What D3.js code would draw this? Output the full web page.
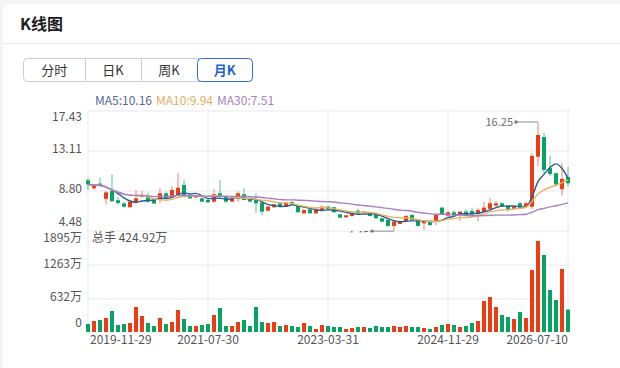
<!DOCTYPE html>
<meta charset="utf-8">
<style>
body {
    margin: 0;
    background: #f3f4f6;
    font-family: "Noto Sans CJK SC", sans-serif;
}
svg text {
    font-family: "Noto Sans CJK SC", sans-serif;
}
</style>
<body>
<script src="https://cdn.jsdelivr.net/npm/d3@7"></script>
<script>
var width = 620,
    height = 368;

// monthly candles, 2019-11 .. 2026-07
var opens  = [9.95, 9.10, 9.60, 7.95, 8.80, 7.80, 7.45, 7.05, 7.60, 8.20,
              8.25, 7.90, 7.85, 8.55, 8.25, 8.35, 9.45, 8.35, 8.10, 8.00,
              7.83, 7.65, 8.55, 8.19, 7.65, 7.94, 8.44, 8.01, 7.83, 7.54,
              6.68, 7.04, 7.47, 7.11, 7.60, 7.18, 6.39, 6.82, 6.39, 6.75,
              7.11, 7.04, 6.28, 5.96, 6.10, 6.68, 6.39, 6.39, 6.21, 5.85,
              5.67, 5.03, 5.24, 5.56, 6.21, 5.67, 5.31, 5.56, 5.49, 7.00,
              6.14, 6.50, 6.28, 6.57, 6.64, 6.32, 6.57, 6.86, 7.22, 7.47,
              7.22, 6.86, 7.47, 7.11, 7.10, 12.50, 14.62, 11.28, 10.71, 9.00,
              10.30];
var highs  = [10.20, 9.50, 10.25, 8.80, 10.60, 8.15, 7.60, 7.70, 8.90, 8.80,
              8.60, 8.00, 9.10, 8.75, 9.30, 10.75, 9.99, 8.45, 8.40, 8.30,
              7.90, 8.98, 9.99, 8.40, 8.10, 8.80, 9.09, 8.10, 8.55, 7.70,
              7.20, 7.40, 7.55, 7.60, 7.70, 7.30, 6.80, 6.90, 6.80, 7.20,
              7.20, 7.10, 6.35, 6.20, 6.50, 6.90, 6.60, 6.45, 6.30, 5.90,
              5.75, 5.55, 5.60, 6.20, 6.30, 5.75, 5.65, 5.70, 6.30, 7.10,
              6.60, 6.75, 6.60, 6.85, 7.00, 7.00, 7.65, 8.08, 7.72, 7.60,
              7.30, 7.20, 7.65, 7.65, 12.86, 16.25, 15.09, 12.60, 10.80, 11.80,
              11.40];
var lows   = [8.90, 8.90, 9.25, 7.35, 7.60, 7.30, 7.00, 7.00, 7.40, 8.10,
              7.55, 7.40, 7.45, 7.85, 8.00, 8.20, 8.35, 7.95, 8.00, 7.60,
              7.50, 7.50, 8.10, 7.50, 7.60, 7.65, 7.80, 7.60, 6.46, 6.20,
              6.60, 6.95, 7.05, 7.05, 7.40, 6.45, 6.30, 6.35, 6.30, 6.70,
              6.75, 6.45, 5.85, 5.90, 6.05, 6.35, 6.35, 6.05, 5.80, 5.45,
              4.90, 4.45, 5.20, 5.50, 5.60, 4.95, 4.60, 5.00, 5.10, 6.20,
              6.10, 6.10, 5.55, 6.20, 6.20, 5.50, 6.50, 6.80, 7.15, 7.05,
              6.57, 6.80, 6.95, 7.05, 6.85, 11.43, 10.70, 10.40, 9.27, 8.30,
              9.30];
var closes = [9.50, 9.40, 9.35, 8.65, 7.70, 7.50, 7.10, 7.65, 8.00, 8.35,
              7.65, 7.45, 8.55, 8.00, 8.90, 9.15, 8.35, 8.00, 8.30, 7.65,
              7.58, 8.44, 8.19, 7.65, 7.94, 8.55, 7.83, 7.65, 7.47, 6.57,
              7.11, 7.36, 7.11, 7.54, 7.47, 6.50, 6.75, 6.39, 6.75, 7.11,
              6.82, 6.50, 5.92, 6.17, 6.46, 6.39, 6.57, 6.10, 5.85, 5.49,
              5.03, 5.49, 5.56, 6.10, 5.67, 5.03, 5.60, 5.13, 6.21, 6.28,
              6.50, 6.14, 6.57, 6.21, 6.28, 6.75, 7.00, 7.47, 7.47, 7.11,
              6.75, 7.11, 7.00, 7.47, 12.58, 14.84, 11.07, 10.63, 9.50, 10.10,
              9.63];
// 万手
var volumes = [152, 208, 227, 265, 398, 133, 152, 171, 474, 303,
               171, 114, 265, 152, 190, 417, 246, 114, 114, 133,
               152, 322, 455, 114, 114, 190, 227, 114, 474, 190,
               171, 190, 114, 133, 114, 95, 171, 114, 57, 133,
               114, 95, 95, 57, 76, 95, 95, 76, 114, 95,
               95, 114, 95, 114, 95, 95, 76, 57, 95, 133,
               152, 133, 95, 114, 171, 208, 587, 663, 474, 322,
               284, 246, 379, 265, 1175, 1724, 1459, 796, 606, 1194,
               424.92];

var tickIndex = [0, 20, 40, 60, 80];
var tickDates = ["2019-11-29", "2021-07-30", "2023-03-31", "2024-11-29", "2026-07-10"];
var priceTicks = [17.43, 13.11, 8.80, 4.48];
var volumeTicks = [1895, 1263, 632, 0];
var maPeriods = [5, 10, 30];
var maLegend = ["MA5:10.16", "MA10:9.94", "MA30:7.51"];

var upColor = "#ee3b12",
    downColor = "#05a462";
var maColors = ["#2b5d90", "#e9b267", "#a77fc4"];
var maTextColors = ["#56679b", "#e8ad60", "#a484c0"];

var svg = d3.select("body").append("svg")
    .attr("width", width)
    .attr("height", height)
    .style("display", "block");

// card
svg.append("rect")
    .attr("x", 3).attr("y", 4)
    .attr("width", 660).attr("height", 400)
    .attr("rx", 6)
    .attr("fill", "#fff");
svg.append("text")
    .attr("x", 20).attr("y", 30)
    .attr("font-size", 16).attr("font-weight", "bold")
    .attr("fill", "#1c1c1c")
    .text("K线图");
svg.append("line")
    .attr("x1", 3).attr("x2", 620)
    .attr("y1", 43.5).attr("y2", 43.5)
    .attr("stroke", "#e8e8ef");

// tabs
var tabs = ["分时", "日K", "周K", "月K"];
var tabEdges = [23.5, 85, 141, 197, 252.5];
svg.append("rect")
    .attr("x", 23.5).attr("y", 58.5)
    .attr("width", 229).attr("height", 23)
    .attr("rx", 4)
    .attr("fill", "#fff").attr("stroke", "#c9cbe0");
[85, 141].forEach(function(x) {
    svg.append("line")
        .attr("x1", x + 0.5).attr("x2", x + 0.5)
        .attr("y1", 58.5).attr("y2", 81.5)
        .attr("stroke", "#c9cbe0");
});
svg.append("rect")
    .attr("x", 197.5).attr("y", 58.5)
    .attr("width", 55).attr("height", 23)
    .attr("rx", 4)
    .attr("fill", "#fff").attr("stroke", "#2f6fdf");
svg.selectAll(".tab").data(tabs).enter().append("text")
    .attr("x", function(d, i) { return (tabEdges[i] + tabEdges[i + 1]) / 2; })
    .attr("y", 70)
    .attr("dy", "0.35em")
    .attr("text-anchor", "middle")
    .attr("font-size", 13)
    .attr("font-weight", function(d, i) { return i === 3 ? "bold" : "normal"; })
    .attr("fill", function(d, i) { return i === 3 ? "#1f5fd8" : "#333"; })
    .text(function(d) { return d; });

// scales
var x = d3.scaleLinear().domain([0, closes.length - 1]).range([88, 568]);
var y = d3.scaleLinear().domain([4.48, 17.43]).range([231, 111]);
var yv = d3.scaleLinear().domain([0, 1895]).range([332, 232]);

var grid = svg.append("g").attr("stroke", "#eef0f6").attr("stroke-width", 1.5);
priceTicks.forEach(function(v) {
    grid.append("line").attr("x1", 88).attr("x2", 570)
        .attr("y1", y(v)).attr("y2", y(v));
});
volumeTicks.slice(1, 3).forEach(function(v) {
    grid.append("line").attr("x1", 88).attr("x2", 570)
        .attr("y1", yv(v)).attr("y2", yv(v));
});
tickIndex.forEach(function(i) {
    grid.append("line").attr("x1", x(i)).attr("x2", x(i))
        .attr("y1", 109).attr("y2", 332);
});

function edgeShift(i, n) {
    return i === 0 ? 6 : (i === n - 1 ? -9 : -2);
}
svg.selectAll(".py").data(priceTicks).enter().append("text")
    .attr("x", 82)
    .attr("y", function(d, i) { return y(d) + edgeShift(i, priceTicks.length); })
    .attr("dy", "0.35em")
    .attr("text-anchor", "end")
    .attr("font-size", 12).attr("fill", "#555")
    .text(function(d) { return d.toFixed(2); });
svg.selectAll(".vy").data(volumeTicks).enter().append("text")
    .attr("x", 82)
    .attr("y", function(d, i) { return yv(d) + edgeShift(i, volumeTicks.length); })
    .attr("dy", "0.35em")
    .attr("text-anchor", "end")
    .attr("font-size", 12).attr("fill", "#555")
    .text(function(d) { return d === 0 ? "0" : d + "万"; });
svg.selectAll(".xl").data(tickIndex).enter().append("text")
    .attr("x", function(d, i) { return i === 0 ? x(d) + 2 : x(d); })
    .attr("y", 340)
    .attr("dy", "0.35em")
    .attr("text-anchor", function(d, i) {
        return i === 0 ? "start" : (i === tickIndex.length - 1 ? "end" : "middle");
    })
    .attr("font-size", 12).attr("fill", "#555")
    .text(function(d, i) { return tickDates[i]; });

// volume bars
svg.append("g").selectAll("rect").data(volumes).enter().append("rect")
    .attr("x", function(d, i) { return x(i) - 2; })
    .attr("width", 4)
    .attr("y", function(d) { return yv(d); })
    .attr("height", function(d) { return yv(0) - yv(d); })
    .attr("fill", function(d, i) { return closes[i] >= opens[i] ? upColor : downColor; });

svg.append("text")
    .attr("x", 92).attr("y", 238)
    .attr("dy", "0.35em")
    .attr("font-size", 12).attr("fill", "#555")
    .text("总手 " + volumes[volumes.length - 1].toFixed(2) + "万");

// candles
var candle = svg.append("g").selectAll("g").data(closes).enter().append("g");
candle.append("line")
    .attr("x1", function(d, i) { return x(i); })
    .attr("x2", function(d, i) { return x(i); })
    .attr("y1", function(d, i) { return y(highs[i]); })
    .attr("y2", function(d, i) { return y(lows[i]); })
    .attr("stroke", function(d, i) { return d >= opens[i] ? upColor : downColor; })
    .attr("stroke-opacity", 0.55)
    .attr("stroke-width", 1.2);
candle.append("rect")
    .attr("x", function(d, i) { return x(i) - 2; })
    .attr("width", 4)
    .attr("y", function(d, i) { return y(Math.max(d, opens[i])); })
    .attr("height", function(d, i) { return Math.max(1, Math.abs(y(d) - y(opens[i]))); })
    .attr("fill", function(d, i) { return d >= opens[i] ? upColor : downColor; });

// moving averages from the closes
maPeriods.forEach(function(p, k) {
    var ma = closes.map(function(c, i) {
        var s = closes.slice(Math.max(0, i - p + 1), i + 1);
        return d3.mean(s);
    });
    svg.append("path")
        .datum(ma)
        .attr("fill", "none")
        .attr("stroke", maColors[k])
        .attr("stroke-width", 1.4)
        .attr("d", d3.line()
            .x(function(d, i) { return x(i); })
            .y(function(d) { return y(d); })
            .curve(d3.curveMonotoneX));
});

// MA legend
var lx = 95;
maLegend.forEach(function(t, k) {
    var tx = svg.append("text")
        .attr("x", lx).attr("y", 101)
        .attr("dy", "0.35em")
        .attr("font-size", 12)
        .attr("fill", maTextColors[k])
        .text(t);
    lx += tx.node().getComputedTextLength() + 4;
});

// high / low markers (clipped to the price pane)
svg.append("clipPath").attr("id", "priceClip")
    .append("rect").attr("x", 60).attr("y", 100).attr("width", 520).attr("height", 132.5);
var marks = svg.append("g").attr("clip-path", "url(#priceClip)");
var hi = d3.maxIndex(highs),
    lo = d3.minIndex(lows);
[[hi, highs[hi], 0], [lo, lows[lo], 4]].forEach(function(m) {
    var cx = x(m[0]),
        cy = y(m[1]);
    marks.append("line")
        .attr("x1", cx).attr("x2", cx - 22)
        .attr("y1", cy).attr("y2", cy)
        .attr("stroke", "#aeb2bb").attr("stroke-width", 1.5);
    marks.append("circle")
        .attr("cx", cx - 22).attr("cy", cy).attr("r", 1.8)
        .attr("fill", "#7a7f8a");
    marks.append("text")
        .attr("x", cx - 25).attr("y", cy + m[2])
        .attr("dy", "0.35em")
        .attr("text-anchor", "end")
        .attr("font-size", 11).attr("fill", "#6a6e78")
        .text(m[1].toFixed(2));
});
</script>
